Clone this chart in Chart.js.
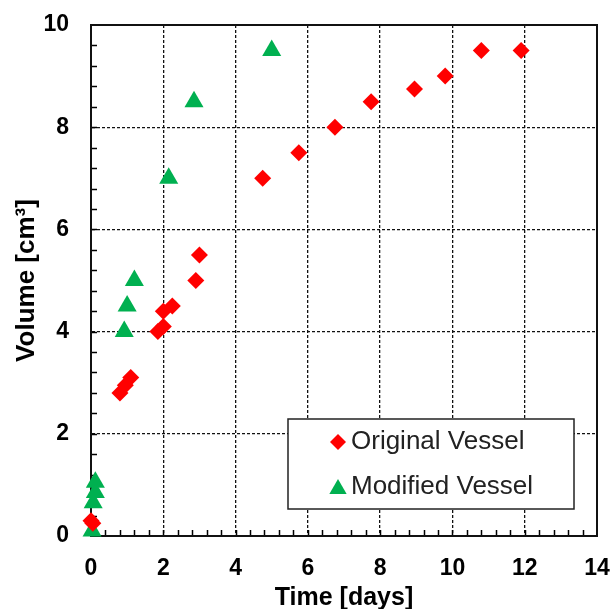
<!DOCTYPE html>
<html>
<head>
<meta charset="utf-8">
<script src="https://cdn.jsdelivr.net/npm/chart.js@4.4.1/dist/chart.umd.min.js"></script>
<style>
  html, body { margin: 0; padding: 0; background: #fff; }
</style>
</head>
<body>
<canvas id="volumeChart" width="613" height="609"></canvas>
<script>
// values
const originalTime   = [0.0, 0.05, 0.8, 0.95, 1.1, 1.85, 2.0, 2.0, 2.25, 2.9, 3.0, 4.75, 5.75, 6.75, 7.75, 8.95, 9.8, 10.8, 11.9];
const originalVolume = [0.3, 0.25, 2.8, 2.95, 3.1, 4.0, 4.1, 4.4, 4.5, 5.0, 5.5, 7.0, 7.5, 8.0, 8.5, 8.75, 9.0, 9.5, 9.5];

const modifiedTime   = [0.03, 0.06, 0.12, 0.12, 0.92, 1.0, 1.2, 2.15, 2.85, 5.0];
const modifiedVolume = [0.1, 0.65, 0.85, 1.05, 4.0, 4.5, 5.0, 7.0, 8.5, 9.5];

const xTicks = [0, 2, 4, 6, 8, 10, 12, 14];
const yTicks = [0, 2, 4, 6, 8, 10];
const minorStep = 0.4;

const FONT = '"Liberation Sans", Arial, sans-serif';

function toPoints(xs, ys) {
    return xs.map((x, i) => ({ x: x, y: ys[i] }));
}

// inward minor ticks + solid frame round the plot area
const framePlugin = {
    id: 'frame',
    beforeDatasetsDraw(chart) {
        const { ctx, chartArea: a, scales } = chart;
        ctx.save();
        ctx.strokeStyle = '#000';
        ctx.lineWidth = 1.5;
        ctx.beginPath();
        for (let v = minorStep; v < 14; v += minorStep) {
            const px = Math.round(scales.x.getPixelForValue(v)) + 0.5;
            ctx.moveTo(px, a.bottom);
            ctx.lineTo(px, a.bottom - 6);
        }
        for (let v = minorStep; v < 10; v += minorStep) {
            const py = Math.round(scales.y.getPixelForValue(v)) + 0.5;
            ctx.moveTo(a.left, py);
            ctx.lineTo(a.left + 6, py);
        }
        ctx.stroke();
        ctx.lineWidth = 2;
        ctx.strokeStyle = '#111';
        ctx.strokeRect(a.left, a.top, a.right - a.left, a.bottom - a.top);
        ctx.restore();
    }
};

// boxed legend inside the plot area, lower right
const boxLegendPlugin = {
    id: 'boxLegend',
    afterDatasetsDraw(chart) {
        const { ctx, chartArea: a } = chart;
        const w = 286, h = 90;
        const left = a.right - 23 - w;
        const top = a.bottom - 27 - h;
        ctx.save();
        ctx.fillStyle = '#fff';
        ctx.fillRect(left, top, w, h);
        ctx.strokeStyle = '#222';
        ctx.lineWidth = 1.5;
        ctx.strokeRect(left, top, w, h);
        ctx.font = '26px ' + FONT;
        ctx.textBaseline = 'middle';
        chart.data.datasets.forEach((ds, i) => {
            const cy = top + 23 + i * 45;
            ctx.fillStyle = ds.backgroundColor;
            Chart.helpers.drawPoint(ctx, {
                pointStyle: ds.pointStyle,
                radius: ds.pointStyle === 'triangle' ? 10 : 8,
                rotation: 0,
                borderWidth: 0
            }, left + 50, cy + (ds.pointStyle === 'triangle' ? 2 : 0));
            ctx.fillStyle = '#222';
            ctx.fillText(ds.label, left + 63, cy);
        });
        ctx.restore();
    }
};

new Chart(document.getElementById('volumeChart'), {
    type: 'scatter',
    data: {
        datasets: [{
            label: 'Original Vessel',
            data: toPoints(originalTime, originalVolume),
            pointStyle: 'rectRot',
            pointRadius: 8.5,
            pointHoverRadius: 8.5,
            backgroundColor: '#ff0000',
            borderColor: '#ff0000',
            borderWidth: 0,
            clip: false
        }, {
            label: 'Modified Vessel',
            data: toPoints(modifiedTime, modifiedVolume),
            pointStyle: 'triangle',
            pointRadius: 11,
            pointHoverRadius: 11,
            backgroundColor: '#00b050',
            borderColor: '#00b050',
            borderWidth: 0,
            clip: false
        }]
    },
    options: {
        responsive: false,
        animation: false,
        layout: { padding: { left: 0, top: 25, right: 16, bottom: 0 } },
        scales: {
            x: {
                type: 'linear',
                min: 0,
                max: 14,
                afterFit: function(scale) {
                    scale.height = 73;
                    scale.paddingLeft = 0;
                    scale.paddingRight = 0;
                },
                afterBuildTicks: function(scale) { scale.ticks = xTicks.map(v => ({ value: v })); },
                ticks: {
                    color: '#000',
                    padding: 19,
                    font: { family: FONT, size: 23, weight: 'bold' }
                },
                grid: { color: '#111', lineWidth: 1.3, drawTicks: false },
                border: { display: true, color: '#000', width: 2, dash: [3, 2] },
                title: {
                    display: true,
                    text: 'Time [days]',
                    color: '#000',
                    padding: { top: 0, bottom: -4 },
                    font: { family: FONT, size: 25, weight: 'bold' }
                }
            },
            y: {
                type: 'linear',
                min: 0,
                max: 10,
                afterFit: function(scale) {
                    scale.width = 91;
                    scale.paddingTop = 0;
                    scale.paddingBottom = 0;
                },
                afterBuildTicks: function(scale) { scale.ticks = yTicks.map(v => ({ value: v })); },
                ticks: {
                    color: '#000',
                    padding: 22,
                    font: { family: FONT, size: 23, weight: 'bold' }
                },
                grid: { color: '#111', lineWidth: 1.3, drawTicks: false },
                border: { display: true, color: '#000', width: 2, dash: [3, 2] },
                title: {
                    display: true,
                    text: 'Volume [cm³]',
                    color: '#000',
                    padding: { top: 11, bottom: 0 },
                    font: { family: FONT, size: 26, weight: 'bold' }
                }
            }
        },
        plugins: {
            legend: { display: false },
            tooltip: { enabled: false }
        }
    },
    plugins: [framePlugin, boxLegendPlugin]
});
</script>
</body>
</html>
